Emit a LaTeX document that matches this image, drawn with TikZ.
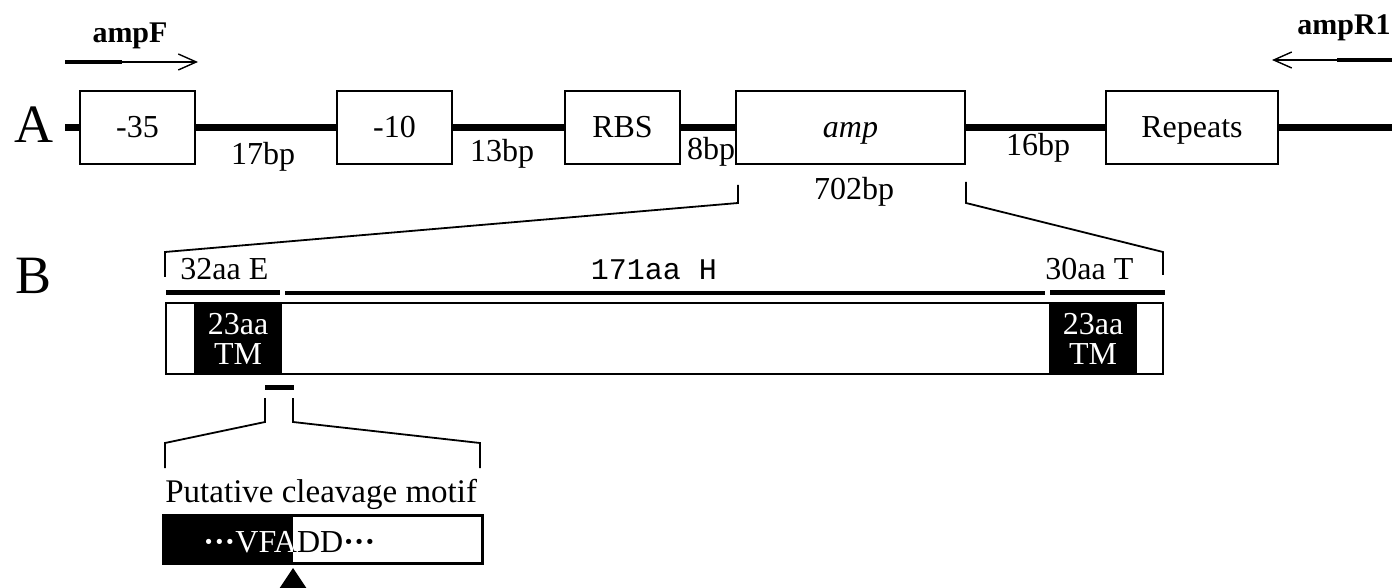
\documentclass[tikz,border=0pt]{standalone}
\usepackage{fontspec}
\setmainfont{Liberation Serif}
\setmonofont{Liberation Mono}
\usetikzlibrary{arrows.meta}

\tikzset{
  fs/.style={font=\fontsize{#1}{#1}\selectfont},
  gbox/.style={draw, line width=1pt, fill=white, inner sep=0pt, minimum height=36.5pt, fs=16,
               text height=12pt, text depth=1.5pt},
  bplabel/.style={fs=16, anchor=base, inner sep=0pt},
  primer/.style={font=\fontsize{15}{15}\selectfont\bfseries, inner sep=0pt, anchor=base},
  dna/.style={line width=3.5pt},
  guide/.style={line width=0.9pt},
  segline/.style={line width=2.5pt},
  tmbox/.style={fill=black, text=white, inner sep=0pt, minimum width=44pt, minimum height=35.5pt,
                align=center, font=\fontsize{16}{15}\selectfont}
}

\begin{document}
\begin{tikzpicture}[x=0.5pt, y=-0.5pt, >={Straight Barb[length=9pt, width=8pt]}]
        \useasboundingbox (0,0) rectangle (1392,588);

        % --- PANEL A: GENE REGION ---
        \node[fs=27, anchor=base west, inner sep=0pt] (lblA) at (14,143) {A};
        \coordinate (startA) at (65,127.5);
        \coordinate (endA) at (1392,127.5);

        \node[gbox, minimum width=57.5pt] (box35) at (137.5,127.5) {-35};
        \node[gbox, minimum width=57.5pt] (box10) at (394.5,127.5) {-10};
        \node[gbox, minimum width=57.5pt] (rbs) at (622.5,127.5) {RBS};
        \node[gbox, minimum width=114.5pt] (amp) at (850.5,127.5) {\itshape amp};
        \node[gbox, minimum width=86pt] (rep) at (1192,127.5) {Repeats};

        % DNA backbone between boxes
        \draw[dna] (startA) -- (box35.west) (box35.east) -- (box10.west)
                   (box10.east) -- (rbs.west) (rbs.east) -- (amp.west)
                   (amp.east) -- (rep.west) (rep.east) -- (endA);

        % spacer lengths
        \node[bplabel] (bp17) at (263,165) {17bp};
        \node[bplabel] (bp13) at (502,162) {13bp};
        \node[bplabel] (bp8) at (711,160) {8bp};
        \node[bplabel] (bp16) at (1038,156) {16bp};
        \node[bplabel] (bp702) at (854,200) {702bp};

        % Primers
        \node[primer] (ampF) at (130,43) {ampF};
        \coordinate (fL) at (65,62);
        \coordinate (fM) at (122,62);
        \coordinate (fR) at (198,62);
        \draw[line width=1.6pt] (fL) -- (fM);
        \draw[line width=0.7pt, ->] (fM) -- (fR);

        \node[primer, anchor=base west] (ampR) at (1297,35) {ampR1};
        \coordinate (rL) at (1272,60);
        \coordinate (rM) at (1337,60);
        \coordinate (rR) at (1392,60);
        \draw[line width=0.7pt, <-] (rL) -- (rM);
        \draw[line width=1.6pt] (rM) -- (rR);

        % Zoom bracket amp -> protein
        \draw[guide] (738,185) -- (738,203) -- (165,252) -- (165,277);
        \draw[guide] (966,182) -- (966,203) -- (1163,252) -- (1163,275);

        % --- PANEL B: PROTEIN ---
        \node[fs=27, anchor=base west, inner sep=0pt] (lblB) at (15,293) {B};

        \node[fs=16, anchor=base west, inner sep=0pt] (segE) at (180,280) {32aa E};
        \node[font=\fontsize{15}{15}\selectfont\ttfamily, anchor=base, inner sep=0pt] (segH) at (654,280) {171aa H};
        \node[fs=16, anchor=base west, inner sep=0pt] (segT) at (1045,280) {30aa T};
        \draw[segline] (166,293) -- (280,293);
        \draw[line width=2pt] (285,293) -- (1045,293);
        \draw[segline] (1050,293) -- (1165,293);

        \node[draw, line width=1pt, inner sep=0pt, minimum width=498.5pt, minimum height=35.5pt] (prot) at (664.5,338.5) {};
        \node[tmbox] (tmL) at (238,338.5) {23aa\\TM};
        \node[tmbox] (tmR) at (1093,338.5) {23aa\\TM};

        % cleavage site and its zoom
        \draw[segline] (265,387) -- (294,387);
        \draw[guide] (265,398) -- (265,422) -- (165,443) -- (165,468);
        \draw[guide] (293,398) -- (293,422) -- (480,443) -- (480,468);

        \node[fs=16.5, anchor=base west, inner sep=0pt] (motifLbl) at (165,502) {Putative cleavage motif};

        \fill (163,515) rectangle (293,563);
        \begin{scope}
            \clip (163,515) rectangle (293,563);
            \node[fs=16, text=white, anchor=base west, inner sep=0pt] (motifW) at (203,552) {\textbf{···}VFADD\textbf{···}};
        \end{scope}
        \begin{scope}
            \clip (293,515) rectangle (482,563);
            \node[fs=16, anchor=base west, inner sep=0pt] (motifB) at (203,552) {\textbf{···}VFADD\textbf{···}};
        \end{scope}
        \draw[line width=1.5pt] (163,515) rectangle (482,563);

        % cleavage arrow
        \fill (293,568) -- (277,592) -- (309,592) -- cycle;
    \end{tikzpicture}
\end{document}
